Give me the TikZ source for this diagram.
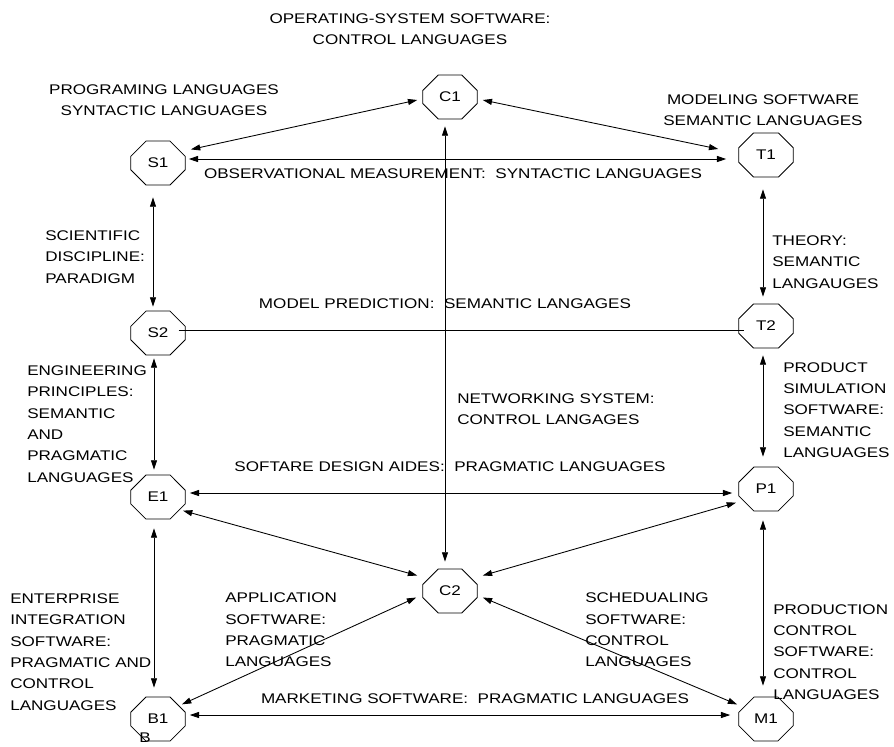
\documentclass[tikz,border=0pt]{standalone}
\usepackage{fontspec}
\setmainfont{Liberation Sans}[FakeStretch=1.22]
\usetikzlibrary{shapes.misc,arrows.meta}
\begin{document}
\begin{tikzpicture}[
  x=0.75pt, y=-0.75pt,
  every node/.style={font=\fontsize{10.5}{16}\selectfont},
  oct/.style={chamfered rectangle, draw=black, line width=0.6pt, minimum width=41pt, minimum height=33pt,
    chamfered rectangle xsep=10pt, chamfered rectangle ysep=8pt, inner sep=0pt},
  lbl/.style={align=left, anchor=west, inner sep=0pt},
  clbl/.style={align=center, inner sep=0pt},
  link/.style={line width=0.65pt, draw=black, {Triangle[length=7pt,width=4.5pt]}-{Triangle[length=7pt,width=4.5pt]}}
]
  \useasboundingbox (0,0) rectangle (894,747);

  % Octagonal nodes
  \node[oct] (C1) at (450,97) {C1};
  \node[oct] (S1) at (158,163) {S1};
  \node[oct] (T1) at (766,155) {T1};
  \node[oct] (S2) at (158,333) {S2};
  \node[oct] (T2) at (766,326) {T2};
  \node[oct] (E1) at (158,497) {E1};
  \node[oct] (P1) at (766,489) {P1};
  \node[oct] (C2) at (450,591) {C2};
  \node[oct] (B1) at (158,719) {B1};
  \node[oct] (M1) at (766,719) {M1};

  % Connectors along the top
  \draw[link] ([shift={(-5,3)}]C1.west) -- ([shift={(13,1)}]S1.north east);
  \draw[link] ([shift={(5,3)}]C1.east) -- ([shift={(-20,-6)}]T1.west);
  \draw[link] ([shift={(3,-4)}]S1.east) -- ([shift={(-12,4)}]T1.west);

  % Vertical connectors
  \draw[link] ([shift={(-5,12)}]S1.south) -- ([shift={(-5,-4)}]S2.north);
  \draw[link] ([shift={(-3,12)}]T1.south) -- ([shift={(-3,-7)}]T2.north);
  \draw[link] ([shift={(-4,3)}]S2.south) -- ([shift={(-4,-5)}]E1.north);
  \draw[link] ([shift={(-3,7)}]T2.south) -- ([shift={(-3,-10)}]P1.north);
  \draw[link] ([shift={(-4,9)}]E1.south) -- ([shift={(-4,-9)}]B1.north);
  \draw[link] ([shift={(-3,9)}]P1.south) -- ([shift={(-3,-11)}]M1.north);
  \draw[link] ([shift={(-5,7)}]C1.south) -- ([shift={(-5,-7)}]C2.north);

  % Plain line between S2 and T2
  \draw[line width=0.65pt] ([shift={(-7,-3)}]S2.east) -- ([shift={(6,4)}]T2.west);

  % Horizontal connectors
  \draw[link] ([shift={(4,-4)}]E1.east) -- ([shift={(-6,4)}]P1.west);
  \draw[link] ([shift={(4,-4)}]B1.east) -- ([shift={(-8,-4)}]M1.west);

  % Diagonal connectors to C2
  \draw[link] ([shift={(5,-1)}]E1.south east) -- ([shift={(-13,-1)}]C2.north west);
  \draw[link] ([shift={(-10,-1)}]P1.south west) -- ([shift={(13,-1)}]C2.north east);
  \draw[link] ([shift={(4,0)}]B1.north east) -- ([shift={(-14,-8)}]C2.south west);
  \draw[link] ([shift={(-9,0)}]M1.north west) -- ([shift={(13,-8)}]C2.south east);

  % Labels
  \node[clbl] (tOS) at (410,29) {OPERATING-SYSTEM SOFTWARE:\\CONTROL LANGUAGES};
  \node[clbl] (tPL) at (164,100) {PROGRAMING LANGUAGES\\SYNTACTIC LANGUAGES};
  \node[clbl] (tMS) at (763,110) {MODELING SOFTWARE\\SEMANTIC LANGUAGES};
  \node[clbl] (tOM) at (453,174) {OBSERVATIONAL MEASUREMENT:\ \ SYNTACTIC LANGUAGES};
  \node[lbl] (tSD) at (45,257) {SCIENTIFIC\\DISCIPLINE:\\PARADIGM};
  \node[lbl] (tTH) at (772,262) {THEORY:\\SEMANTIC\\LANGAUGES};
  \node[clbl] (tMP) at (445,304) {MODEL PREDICTION:\ \ SEMANTIC LANGAGES};
  \node[lbl] (tEP) at (27,424) {ENGINEERING\\PRINCIPLES:\\SEMANTIC\\AND\\PRAGMATIC\\LANGUAGES};
  \node[lbl] (tNS) at (457,409) {NETWORKING SYSTEM:\\CONTROL LANGAGES};
  \node[lbl] (tPS) at (783,410) {PRODUCT\\SIMULATION\\SOFTWARE:\\SEMANTIC\\LANGUAGES};
  \node[clbl] (tSA) at (450,467) {SOFTARE DESIGN AIDES:\ \ PRAGMATIC LANGUAGES};
  \node[lbl] (tEI) at (10,652) {ENTERPRISE\\INTEGRATION\\SOFTWARE:\\PRAGMATIC AND\\CONTROL\\LANGUAGES};
  \node[lbl] (tAS) at (225,630) {APPLICATION\\SOFTWARE:\\PRAGMATIC\\LANGUAGES};
  \node[lbl] (tSS) at (585,630) {SCHEDUALING\\SOFTWARE:\\CONTROL\\LANGUAGES};
  \node[lbl] (tPC) at (773,652) {PRODUCTION\\CONTROL\\SOFTWARE:\\CONTROL\\LANGUAGES};
  \node[clbl] (tMK) at (475,699) {MARKETING SOFTWARE:\ \ PRAGMATIC LANGUAGES};
  \node[inner sep=0pt] (tB) at (145,738) {B};

\end{tikzpicture}
\end{document}
